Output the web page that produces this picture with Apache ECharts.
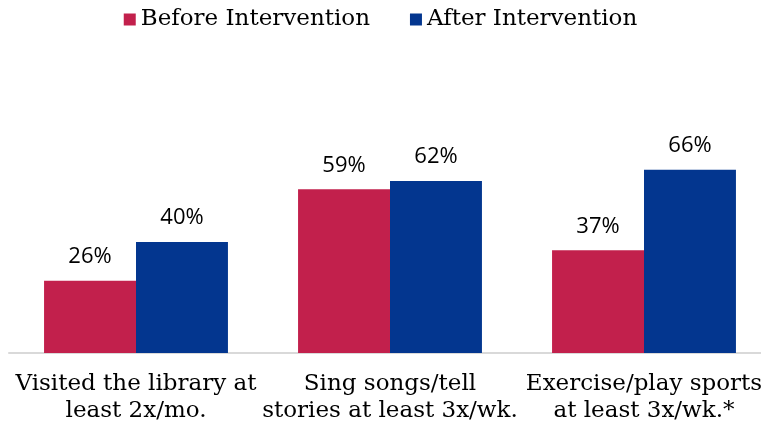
<!DOCTYPE html>
<html><head><meta charset="utf-8">
<script src="https://cdn.jsdelivr.net/npm/echarts@6/dist/echarts.min.js"></script>
<style>html,body{margin:0;padding:0;background:#fff}#c{width:761px;height:428px}</style>
</head><body><div id="c"></div>
<script>
var categories = ['Visited the library at\nleast 2x/mo.', 'Sing songs/tell\nstories at least 3x/wk.', 'Exercise/play sports\nat least 3x/wk.*'];
var seriesNames = ['Before Intervention', 'After Intervention'];
var beforeValues = [26, 59, 37];
var afterValues = [40, 62, 66];
var colors = ['#C2204C', '#03368F'];
var slab = '"DejaVu Serif", serif';
var chart = echarts.init(document.getElementById('c'));
function mk(name, data, color) {
  return {
    name: name, type: 'bar', data: data, barGap: '0%', barCategoryGap: '27.6%',
    itemStyle: { color: color },
    label: { show: true, position: 'top', distance: 13, formatter: '{c}%', color: '#000',
      fontFamily: '"Open Sans", "Noto Sans", sans-serif', fontSize: 22 }
  };
}
chart.setOption({
  animation: false,
  legend: { top: 3, left: 'center', itemWidth: 12, itemHeight: 12, itemGap: 40, icon: 'rect',
    textStyle: { fontFamily: slab, fontSize: 23, color: '#000' } },
  grid: { left: 9, width: 762, top: 75.5, bottom: 75, containLabel: false, outerBoundsMode: 'none' },
  xAxis: { type: 'category', data: categories,
    axisLine: { lineStyle: { color: '#D9D9D9', width: 2 } }, axisTick: { show: false },
    axisLabel: { interval: 0, margin: 18, color: '#000', fontFamily: slab, fontSize: 23, lineHeight: 27 } },
  yAxis: { type: 'value', min: 0, max: 100, show: false, splitLine: { show: false } },
  series: [mk(seriesNames[0], beforeValues, colors[0]), mk(seriesNames[1], afterValues, colors[1])]
});
</script></body></html>
